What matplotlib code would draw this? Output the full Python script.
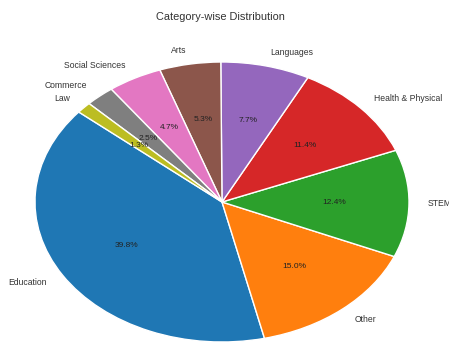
import matplotlib
matplotlib.use("Agg")
import matplotlib.pyplot as plt

# category shares (percent)
categories = ["Education", "Other", "STEM", "Health & Physical", "Languages",
              "Arts", "Social Sciences", "Commerce", "Law"]
shares = [39.8, 15.0, 12.4, 11.4, 7.7, 5.3, 4.7, 2.5, 1.3]
colors = ["#1f77b4", "#ff7f0e", "#2ca02c", "#d62728", "#9467bd",
          "#8c564b", "#e377c2", "#7f7f7f", "#bcbd22"]

plt.rcParams["font.family"] = ["Liberation Sans", "DejaVu Sans"]

fig = plt.figure(figsize=(4.49, 3.42), dpi=100)
ax = fig.add_axes([0, 0, 1, 1])

wedges, texts, autotexts = ax.pie(
    shares, labels=categories, colors=colors, autopct="%1.1f%%",
    startangle=140, labeldistance=1.1, pctdistance=0.6,
    wedgeprops=dict(edgecolor="white", linewidth=1.0),
    textprops=dict(fontsize=6.2, color="#333333"))

for t in autotexts:
    t.set_color("#222222")
    t.set_fontsize(6.0)

# the reference pie is squashed into an ellipse and cut at the bottom
ax.set_aspect("auto")
ax.set_xlim(-222 / 187, (449 - 222) / 187)
ax.set_ylim(-(342 - 202) / 140, 202 / 140)
ax.axis("off")

fig.text(0.49, 0.95, "Category-wise Distribution", ha="center", va="center",
         fontsize=7.9, color="#333333")

fig.savefig("out.png", dpi=100, facecolor="white")
